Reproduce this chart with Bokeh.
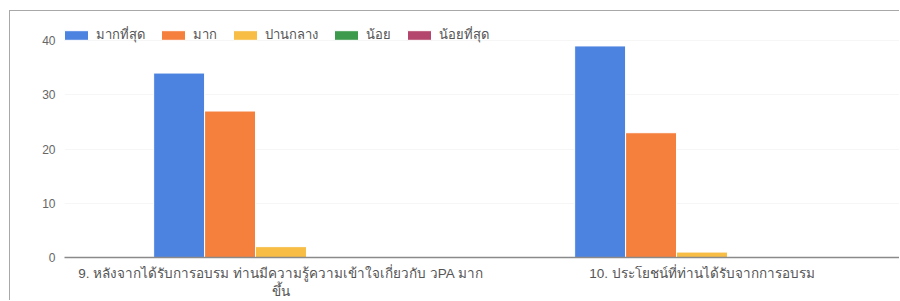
from bokeh.plotting import figure
from bokeh.models import ColumnDataSource, Range1d, FixedTicker, Legend, LegendItem
from bokeh.transform import dodge
from bokeh.embed import file_html
from bokeh.resources import INLINE

categories = [
    "9. หลังจากได้รับการอบรม ท่านมีความรู้ความเข้าใจเกี่ยวกับ วPA มาก\nขึ้น",
    "10. ประโยชน์ที่ท่านได้รับจากการอบรม",
]
series_names = ["มากที่สุด", "มาก", "ปานกลาง", "น้อย", "น้อยที่สุด"]
most = [34, 39]
much = [27, 23]
medium = [2, 1]
little = [0, 0]
least = [0, 0]
y_ticks = [0, 10, 20, 30, 40]

colors = ["#4c83e0", "#f5803e", "#f7bd45", "#3c9a4c", "#b4456c"]

FONT = "Liberation Sans"
slot = 0.121
px_per_unit = 421.0

src = ColumnDataSource(dict(
    x=[i + 0.5 for i in range(len(categories))],
    s0=most, s1=much, s2=medium, s3=little, s4=least,
))

W, H = 890, 290
ML = 54
MT = 14
MB = 44
x0 = -6 / px_per_unit
x1 = x0 + (W - ML) / px_per_unit
y_end = 40 + (40 - 25) / 5.425
frame_h = H - MT - MB

p = figure(width=W, height=H, x_range=Range1d(x0, x1), y_range=Range1d(0, y_end),
           output_backend="svg", toolbar_location=None,
           min_border_left=ML, min_border_right=0, min_border_top=MT, min_border_bottom=MB)
p.margin = (10, 0, 0, 9)
p.styles = {"border-left": "1px solid #a8a8a8", "border-top": "1px solid #a8a8a8"}
p.outline_line_color = None
p.background_fill_color = "white"
p.border_fill_color = "white"

renderers = []
for j, name in enumerate(series_names):
    r = p.vbar(x=dodge("x", (j - 2) * slot, range=p.x_range), top="s%d" % j, width=slot,
               bottom=0, source=src, fill_color=colors[j], line_color="white", line_width=1)
    renderers.append(r)

legend = Legend(items=[LegendItem(label=n, renderers=[r]) for n, r in zip(series_names, renderers)],
                orientation="horizontal", location=(-3, frame_h - 20), padding=0, spacing=13,
                glyph_width=30, glyph_height=12, label_height=14, label_standoff=5,
                label_text_font=FONT, label_text_font_size="13px", label_text_color="#555555",
                background_fill_alpha=0, border_line_color=None, margin=0)
p.add_layout(legend)

p.xaxis.ticker = FixedTicker(ticks=[i + 0.5 for i in range(len(categories))])
p.xaxis.major_label_overrides = {i + 0.5: c for i, c in enumerate(categories)}
p.xaxis.axis_line_color = "#8a8a8a"
p.xaxis.axis_line_width = 1.5
p.xaxis.major_tick_line_color = None
p.xaxis.minor_tick_line_color = None
p.xaxis.major_label_standoff = 2
p.xaxis.major_label_text_font = FONT
p.xaxis.major_label_text_font_size = "13.5px"
p.xaxis.major_label_text_color = "#555555"

p.yaxis.ticker = FixedTicker(ticks=y_ticks)
p.yaxis.axis_line_color = None
p.yaxis.major_tick_line_color = None
p.yaxis.minor_tick_line_color = None
p.yaxis.major_label_standoff = 3
p.yaxis.major_label_text_font = FONT
p.yaxis.major_label_text_font_size = "12px"
p.yaxis.major_label_text_color = "#666666"

p.xgrid.grid_line_color = None
p.ygrid.grid_line_color = "#f6f6f6"

open("out.html", "w").write(file_html(p, INLINE))
